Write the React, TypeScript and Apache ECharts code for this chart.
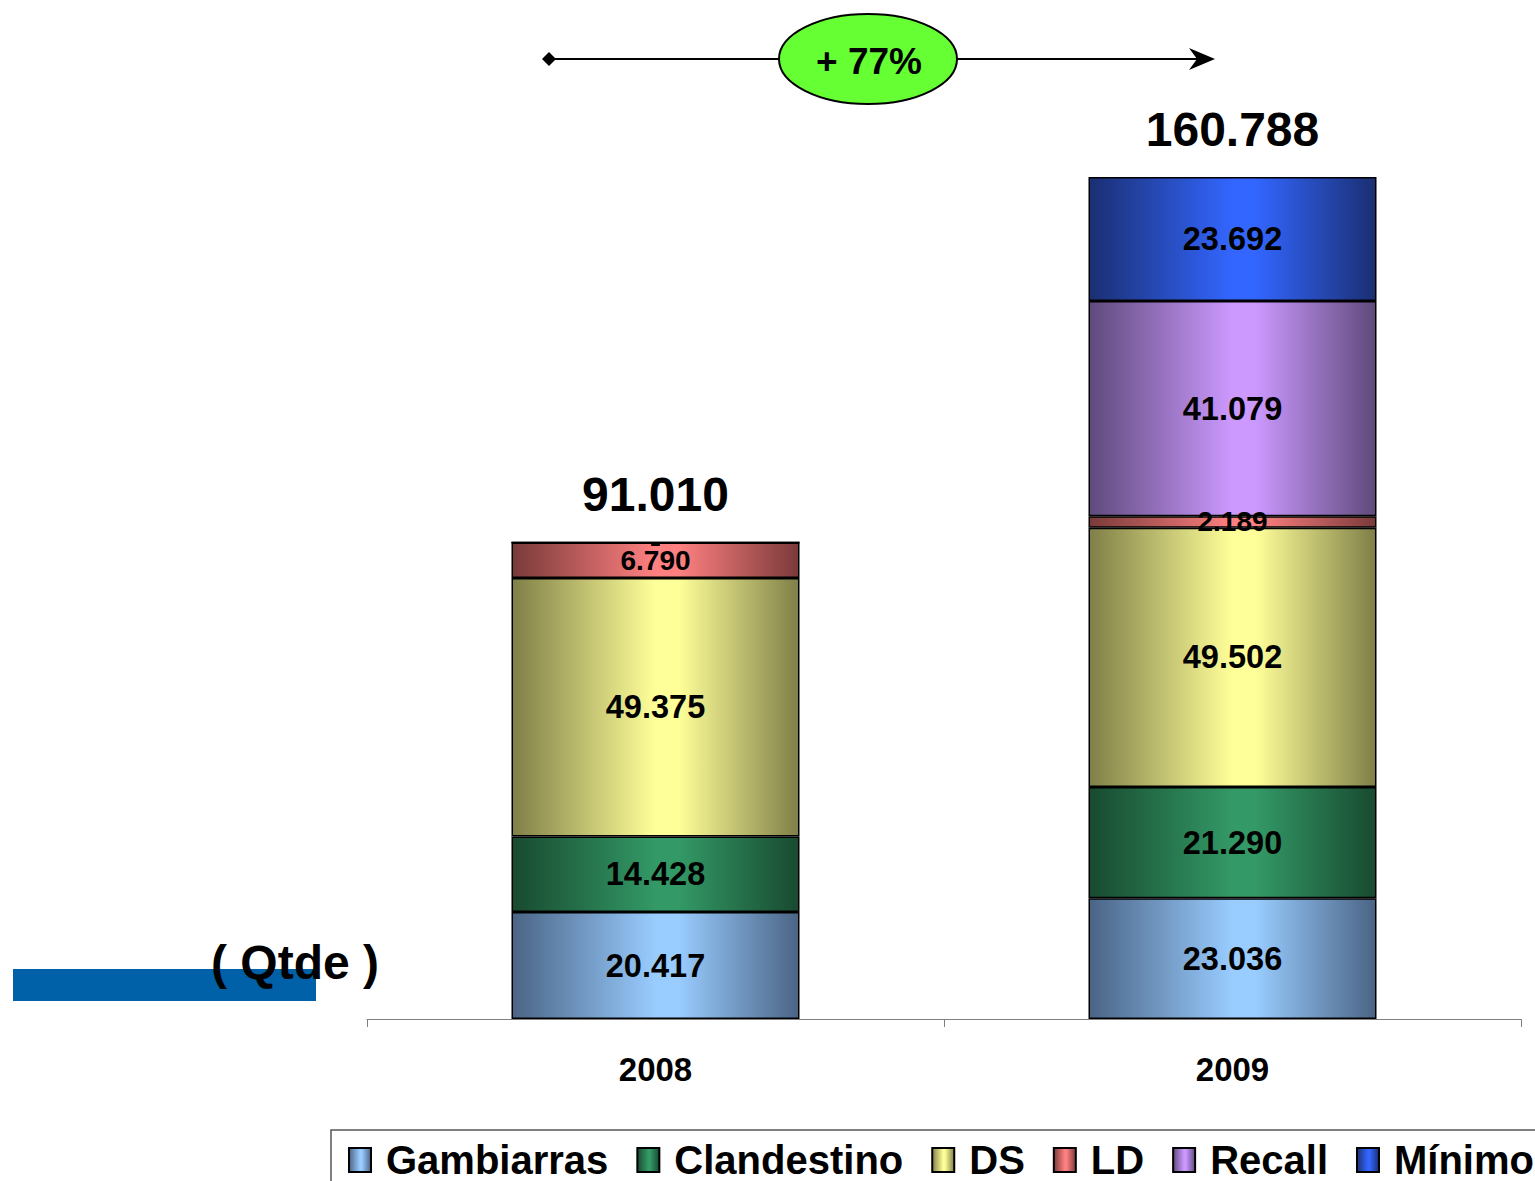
import React, { useEffect, useRef } from "react";
import * as echarts from "echarts";

const categories = ["2008", "2009"];
const gambiarras = [20417, 23036];
const clandestino = [14428, 21290];
const ds = [49375, 49502];
const ld = [6790, 2189];
const recall = [0, 41079];
const minimo = [0, 23692];
const seriesNames = ["Gambiarras", "Clandestino", "DS", "LD", "Recall", "Mínimo"];
const seriesValues = [gambiarras, clandestino, ds, ld, recall, minimo];
const lightColors = ["#99ccff", "#339966", "#ffff99", "#ff8080", "#cc99ff", "#3366ff"];
const darkColors = ["#4a6485", "#184a30", "#7f7f48", "#7a3a3a", "#5f4a7c", "#1a2f72"];
const labelSizes = [32.5, 32.5, 32.5, 28, 32.5, 32.5];

const FONT = "'Liberation Sans', Arial, sans-serif";

function fmt(v: number): string {
  return String(v).replace(/\B(?=(\d{3})+(?!\d))/g, ".");
}

function grad(dark: string, light: string) {
  return new echarts.graphic.LinearGradient(0, 0, 1, 0, [
    { offset: 0, color: dark },
    { offset: 0.5, color: light },
    { offset: 0.58, color: light },
    { offset: 1, color: dark },
  ]);
}

export default function App() {
  const ref = useRef<HTMLDivElement>(null);
  useEffect(() => {
    if (!ref.current) return;
    const chart = echarts.init(ref.current, null, { renderer: "svg" });
    const totals = categories.map((_, i) => seriesValues.reduce((s, arr) => s + arr[i], 0));
    const growth = Math.round((totals[1] / totals[0] - 1) * 100);

    const gridBottom = 1019;
    const gridTop = 76.4;

    const barSeries = seriesNames.map((name, k) => ({
      name,
      type: "bar",
      stack: "total",
      barWidth: 288,
      data: seriesValues[k],
      itemStyle: {
        color: grad(darkColors[k], lightColors[k]),
        borderColor: "#000",
        borderWidth: 1.5,
      },
      label: {
        show: true,
        position: "inside",
        color: "#000",
        fontFamily: FONT,
        fontWeight: "bold",
        fontSize: labelSizes[k],
        formatter: (p: any) => (p.value === 0 ? "-" : fmt(p.value)),
      },
    }));

    chart.setOption({
      animation: false,
      backgroundColor: "#fff",
      grid: { left: 367, right: 14, top: gridTop, bottom: 1181 - gridBottom, containLabel: false },
      xAxis: {
        type: "category",
        data: categories,
        axisLine: { lineStyle: { color: "#808080", width: 1 } },
        axisTick: { show: true, length: 8, lineStyle: { color: "#808080" } },
        axisLabel: {
          color: "#000",
          fontFamily: FONT,
          fontWeight: "bold",
          fontSize: 33,
          margin: 34,
        },
      },
      yAxis: {
        type: "value",
        min: 0,
        max: 180000,
        show: false,
        splitLine: { show: false },
      },
      legend: {
        data: seriesNames,
        left: 331,
        top: 1130,
        width: 1500,
        padding: [10, 0, 0, 17],
        itemWidth: 22,
        itemHeight: 24,
        itemGap: 28,
        icon: "rect",
        textStyle: {
          color: "#000",
          fontFamily: FONT,
          fontWeight: "bold",
          fontSize: 40,
          padding: [0, 0, 0, 10],
        },
      },
      series: [
        ...barSeries,
        {
          name: "Total",
          type: "scatter",
          data: totals,
          symbolSize: 0,
          silent: true,
          itemStyle: { opacity: 1 },
          label: {
            show: true,
            position: "top",
            distance: 24,
            color: "#000",
            opacity: 1,
            fontFamily: FONT,
            fontWeight: "bold",
            fontSize: 48,
            formatter: (p: any) => fmt(p.value),
          },
        },
      ],
      graphic: [
        {
          type: "rect",
          shape: { x: 331, y: 1130, width: 1300, height: 100 },
          style: { fill: "none", stroke: "#555", lineWidth: 1.5 },
          silent: true,
        },
        {
          type: "rect",
          shape: { x: 13, y: 969, width: 303, height: 32 },
          style: { fill: "#0060a8" },
        },
        {
          type: "text",
          x: 295,
          y: 962,
          style: {
            text: "( Qtde )",
            fill: "#000",
            font: `bold 48px ${FONT}`,
            align: "center",
            verticalAlign: "middle",
          },
        },
        {
          type: "line",
          shape: { x1: 549, y1: 59, x2: 1205, y2: 59 },
          style: { stroke: "#000", lineWidth: 2 },
        },
        {
          type: "polygon",
          shape: { points: [[542, 59], [549, 52], [556, 59], [549, 66]] },
          style: { fill: "#000" },
        },
        {
          type: "polygon",
          shape: { points: [[1215, 59], [1189, 48], [1197, 59], [1189, 70]] },
          style: { fill: "#000" },
        },
        {
          type: "ellipse",
          shape: { cx: 868, cy: 59, rx: 89, ry: 45 },
          style: { fill: "#66ff33", stroke: "#000", lineWidth: 2 },
        },
        {
          type: "text",
          x: 869,
          y: 61,
          style: {
            text: `+ ${growth}%`,
            fill: "#000",
            font: `bold 37px ${FONT}`,
            align: "center",
            verticalAlign: "middle",
          },
        },
      ],
    });
    return () => chart.dispose();
  }, []);
  return (
    <div
      ref={ref}
      style={{ position: "absolute", left: 0, top: 0, width: 1535, height: 1181 }}
    />
  );
}
